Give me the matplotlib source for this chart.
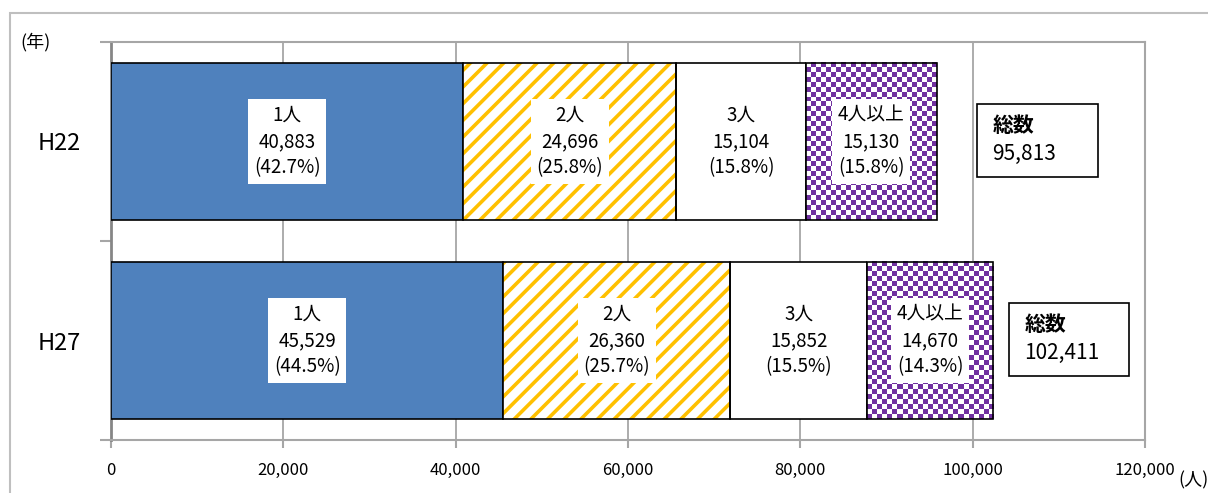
import numpy as np
import matplotlib
matplotlib.use('Agg')
import matplotlib.pyplot as plt
from matplotlib.patches import Rectangle

plt.rcParams['font.family'] = ['Noto Sans CJK JP', 'DejaVu Sans']

# household counts by number of members
years = ['H22', 'H27']
groups = ['1人', '2人', '3人', '4人以上']
h22 = [40883, 24696, 15104, 15130]
h27 = [45529, 26360, 15852, 14670]
totals = [95813, 102411]
xticks = [0, 20000, 40000, 60000, 80000, 100000, 120000]

blue = '#4F81BD'
gold = '#FFC000'
purple = '#7030A0'
grid_c = '#A6A6A6'

fig = plt.figure(figsize=(12.08, 4.93), dpi=100)
ax = fig.add_axes([111/1208, 1-440/493, 1034/1208, 398/493])
ax.set_xlim(0, 120000)
ax.set_ylim(1.5, -0.5)

# outer frame of the chart area
fig.patches.append(Rectangle((10/1208, -0.1), 1.2, 1-13/493+0.1, transform=fig.transFigure,
                             fill=False, edgecolor='#BFBFBF', lw=1.5))

plt.rcParams['hatch.linewidth'] = 2.6
plt.rcParams['hatch.color'] = gold

bar_h = 0.79
data = [h22, h27]
for i, vals in enumerate(data):
    total = sum(vals)
    left = 0
    for j, v in enumerate(vals):
        if j == 0:
            ax.barh(i, v, left=left, height=bar_h, color=blue, edgecolor='black', lw=1.2, zorder=3)
        elif j == 1:
            ax.barh(i, v, left=left, height=bar_h, facecolor='white', edgecolor=gold,
                    hatch='//', lw=0, zorder=3)
            ax.barh(i, v, left=left, height=bar_h, facecolor='none', edgecolor='black', lw=1.2, zorder=3.5)
        elif j == 2:
            ax.barh(i, v, left=left, height=bar_h, color='white', edgecolor='black', lw=1.2, zorder=3)
        else:
            # checkerboard fill, about 5px squares
            px_x = 1034 / 120000
            px_y = 200
            nx = int(round(v * px_x / 5))
            ny = int(round(bar_h * px_y / 5))
            cb = (np.indices((ny, nx)).sum(axis=0) % 2)
            cmap = matplotlib.colors.ListedColormap(['white', purple])
            ax.imshow(cb, cmap=cmap, extent=(left, left + v, i + bar_h/2, i - bar_h/2),
                      interpolation='nearest', aspect='auto', zorder=3)
            ax.barh(i, v, left=left, height=bar_h, facecolor='none', edgecolor='black', lw=1.2, zorder=3.5)
        pct = v / total * 100
        ax.text(left + v/2, i, '{}\n{:,}\n({:.1f}%)'.format(groups[j], v, pct),
                ha='center', va='center', fontsize=13.5, linespacing=1.35, zorder=5,
                bbox=dict(boxstyle='square,pad=0.3', facecolor='white', edgecolor='none'))
        left += v

# total boxes
box_x = [100500, 104200]
for i, t in enumerate(totals):
    ax.add_patch(Rectangle((box_x[i], i - 0.19), 14000, 0.37, facecolor='white',
                           edgecolor='black', lw=1.2, zorder=4))
    ax.text(box_x[i] + 1800, i - 0.08, '総数', ha='left', va='center', fontsize=15,
            fontweight='bold', zorder=5)
    ax.text(box_x[i] + 1800, i + 0.065, '{:,}'.format(t), ha='left', va='center',
            fontsize=15, zorder=5)

ax.set_xticks(xticks)
ax.set_xticklabels(['{:,}'.format(x) for x in xticks], fontsize=12)
ax.tick_params(axis='x', direction='out', length=6, color=grid_c, width=1.5, pad=10)
ax.grid(axis='x', color=grid_c, lw=1.3, zorder=0)
ax.set_axisbelow(True)

ax.set_yticks([0, 1])
ax.set_yticklabels(years, fontsize=17)
ax.set_yticks([-0.5, 0.5, 1.5], minor=True)
ax.tick_params(axis='y', which='major', length=0, pad=22)
ax.tick_params(axis='y', which='minor', length=8, width=1.5, color=grid_c, direction='out')

for s in ['top', 'right', 'bottom']:
    ax.spines[s].set_color(grid_c)
    ax.spines[s].set_linewidth(1.5)
ax.spines['left'].set_color('#868686')
ax.spines['left'].set_linewidth(2)

fig.text(20/1208, 1-42/493, '(年)', fontsize=13, ha='left', va='center')
fig.text(1178/1208, 1-480/493, '(人)', fontsize=13, ha='left', va='center')

fig.savefig('out.png', dpi=100)
